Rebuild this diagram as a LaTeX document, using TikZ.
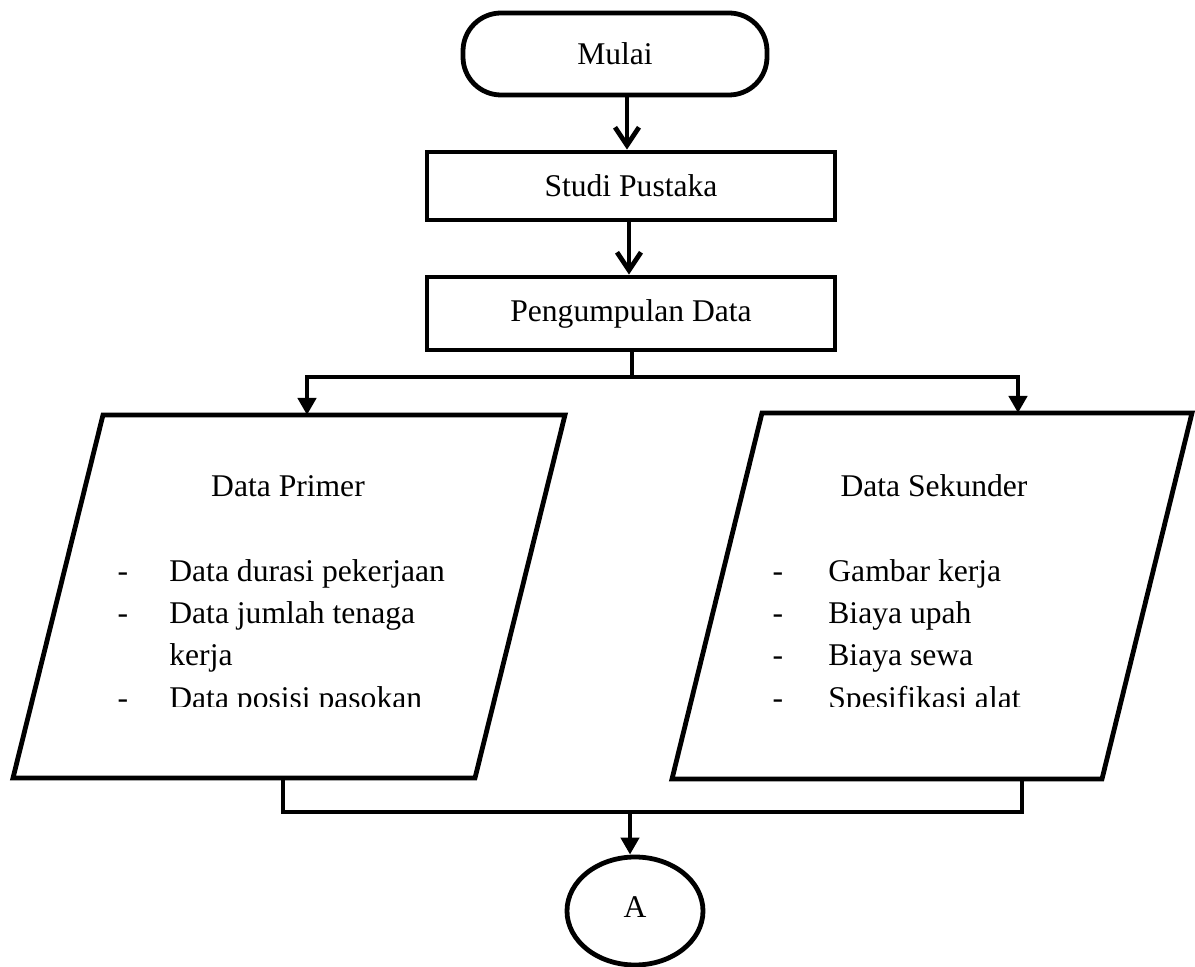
\documentclass[tikz,border=0pt]{standalone}
\usepackage{fontspec}
\setmainfont{Liberation Serif}
\usetikzlibrary{arrows.meta,shapes.geometric}
\begin{document}
\begin{tikzpicture}[x=0.5pt,y=-0.5pt,
  line width=2.4pt, line join=miter,
  every node/.style={font=\fontsize{15.8}{24}\selectfont},
  procbox/.style={draw, line width=2.4pt, minimum width=204pt, inner sep=0pt},
  vtip/.style={-{Straight Barb[length=9pt,width=12pt,line width=2.4pt]}},
  ftip/.style={-{Triangle[length=8.5pt,width=9pt]}},
  txt/.style={anchor=base west, inner sep=0pt},
  bulletdash/.style={anchor=base, inner sep=0pt}
]
\useasboundingbox (0,0) rectangle (1195,967);

% Start terminal
\node[draw, rounded corners=19pt, minimum width=152pt, minimum height=41pt, inner sep=0pt] (mulai) at (615,54) {Mulai};

% Process boxes
\node[procbox, minimum height=34pt] (studi) at (631,186) {Studi Pustaka};
\node[procbox, minimum height=36.5pt] (kumpul) at (631,313.5) {Pengumpulan Data};

% Parallelograms
\coordinate (p1a) at (103,415); \coordinate (p1b) at (565,415);
\coordinate (p1c) at (475,778); \coordinate (p1d) at (13,778);
\draw (p1a) -- (p1b) -- (p1c) -- (p1d) -- cycle;
\coordinate (p2a) at (762,413); \coordinate (p2b) at (1192,413);
\coordinate (p2c) at (1102,779); \coordinate (p2d) at (672,779);
\draw (p2a) -- (p2b) -- (p2c) -- (p2d) -- cycle;

% Text of Data Primer
\node[anchor=base, inner sep=0pt] (dp) at (288,497) {Data Primer};
\begin{scope}
\clip (0,540) rectangle (600,707);
\node[bulletdash] (d1) at (123,582) {-};
\node[txt] (l1) at (167,582) {Data durasi pekerjaan};
\node[bulletdash] (d2) at (123,624) {-};
\node[txt] (l2) at (167,624) {Data jumlah tenaga};
\node[txt] (l3) at (167,666) {kerja};
\node[bulletdash] (d4) at (123,709) {-};
\node[txt] (l4) at (167,709) {Data posisi pasokan};
\end{scope}

% Text of Data Sekunder
\node[anchor=base, inner sep=0pt] (ds) at (934,497) {Data Sekunder};
\begin{scope}
\clip (650,540) rectangle (1195,707);
\node[bulletdash] (e1) at (778,582) {-};
\node[txt] (m1) at (826,582) {Gambar kerja};
\node[bulletdash] (e2) at (778,624) {-};
\node[txt] (m2) at (826,624) {Biaya upah};
\node[bulletdash] (e3) at (778,666) {-};
\node[txt] (m3) at (826,666) {Biaya sewa};
\node[bulletdash] (e4) at (778,709) {-};
\node[txt] (m4) at (826,709) {Spesifikasi alat};
\end{scope}

% Connector circle
\node[draw, ellipse, minimum width=68pt, minimum height=54pt, inner sep=0pt] (A) at (635,911) {};
\node[inner sep=0pt] (Alabel) at (635,907) {A};

% Connectors
\draw[vtip] (mulai.south -| 627,0) -- (studi.north -| 627,0);
\draw[vtip] (studi.south -| 629,0) -- (kumpul.north -| 629,0);

\coordinate (split) at (632,377);
\coordinate (sl) at (307,377);
\coordinate (sr) at (1018,377);
\draw (kumpul.south -| split) -- (split);
\draw[ftip] (split) -- (sl) -- (sl |- p1a);
\draw[ftip] (split) -- (sr) -- (sr |- p2a);

\coordinate (jl) at (283,812);
\coordinate (jr) at (1022,812);
\coordinate (jm) at (630,812);
\draw (jl |- p1d) -- (jl) -- (jr) -- (jr |- p2d);
\draw[ftip] (jm) -- (A.north -| jm);
\end{tikzpicture}
\end{document}
